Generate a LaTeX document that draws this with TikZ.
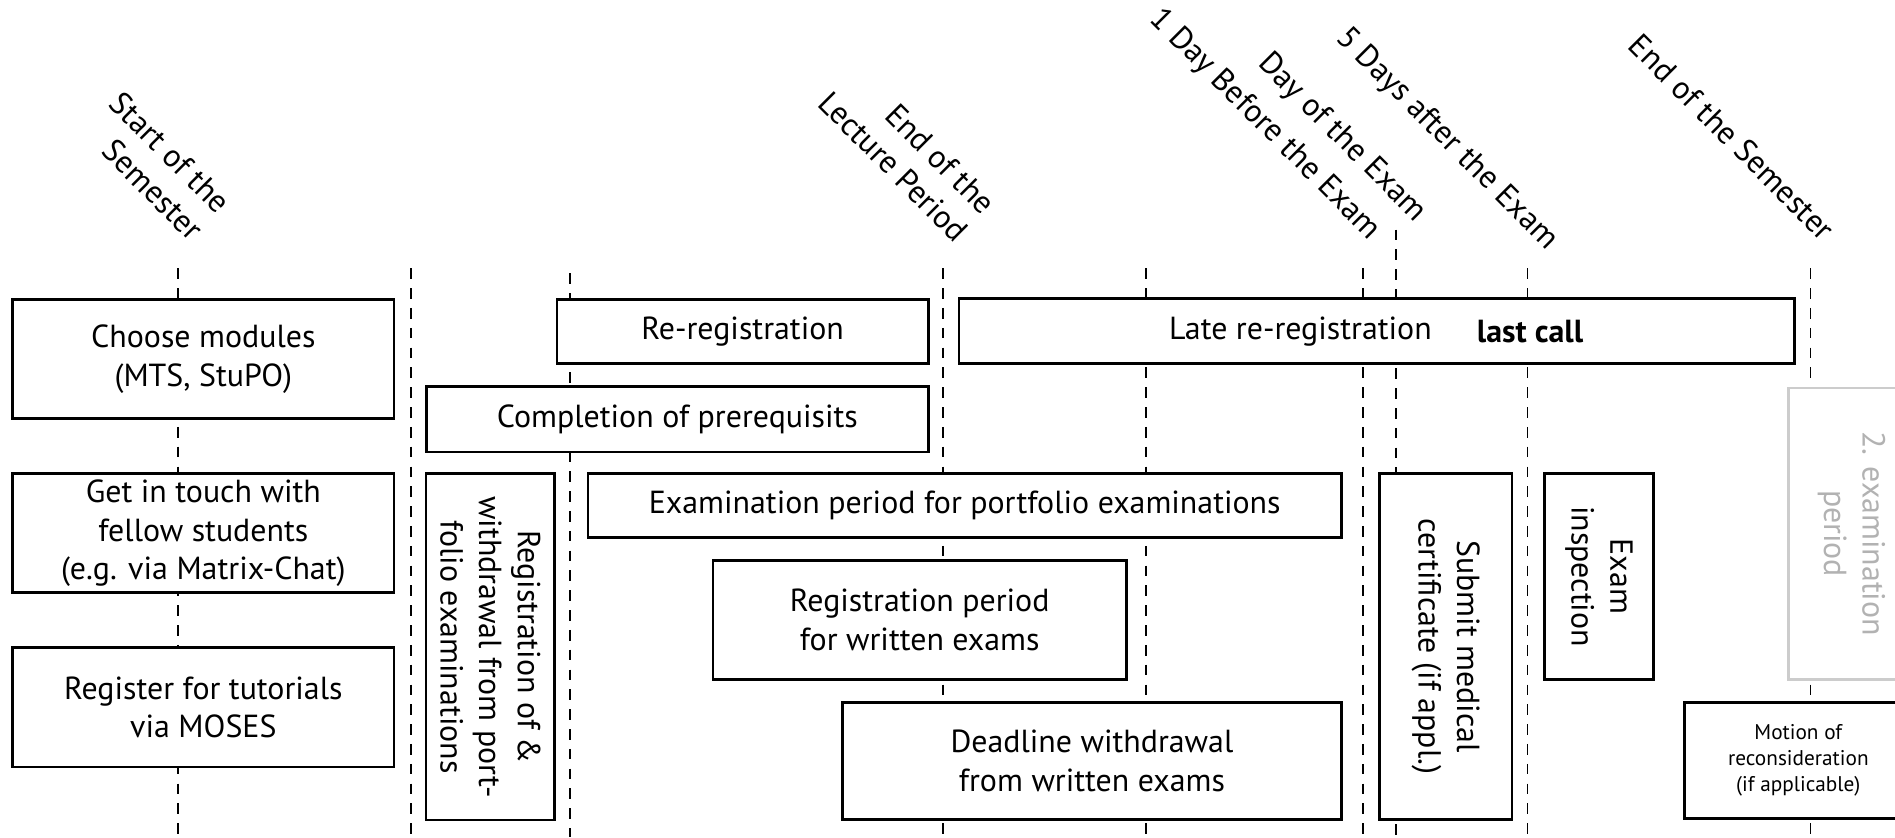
\documentclass[tikz,border=0pt]{standalone}
\usepackage{fontspec}
\setmainfont{PT Sans}
\tikzset{
	box/.style={draw, line width=1.1pt, fill=white},
	greybox/.style={draw=black!20, line width=1.1pt, fill=white, text=black!30},
	guide/.style={line width=0.7pt, dash pattern=on 4.4pt off 3.8pt},
	when/.style={rotate=-45, anchor=south east, inner sep=0pt, align=right, text depth=0pt},
}
\begin{document}
\begin{tikzpicture}[x=0.5pt, y=-0.5pt, font=\fontsize{13.2}{16}\selectfont]
		\useasboundingbox (0,0) rectangle (1568,692.6);
		\clip (0,0) rectangle (1568,692.6);
		
		% dashed time marks
		\foreach \x/\t [count=\i] in {147/222, 340/222, 471.5/226, 780.5/222, 948/222, 1127.5/222, 1155/190, 1264/222, 1498/222} {
			\coordinate (top-\i) at (\x,\t);
			\coordinate (bot-\i) at (\x,692.6);
			\draw[guide] (top-\i) -- (bot-\i);
		}
		
		\node[when] (start-sem) at (157,201) {Start of the\\Semester};
		\node[when] (end-lecture) at (790,202) {End of the\\Lecture Period};
		\node[when] (day-before) at (1133,200) {1 Day Before the Exam};
		\node[when] (exam-day) at (1171,185) {Day of the Exam};
		\node[when] (days-after) at (1280,208) {5 Days after the Exam};
		\node[when] (end-sem) at (1507,201) {End of the Semester};
		
		\draw[box] (10.5,248) rectangle (326,346) node[midway, align=center] (choose) {Choose modules\\(MTS, StuPO)};
		\draw[box] (10.5,392) rectangle (326,490.5) node[midway, align=center] (touch) {Get in touch with\\fellow students\\(e.g. via Matrix-Chat)};
		\draw[box] (10.5,536) rectangle (326,634.5) node[midway, align=center] (tutorials) {Register for tutorials\\via MOSES};
		
		\draw[box] (461,248) rectangle (768,301) node[midway] (re-reg) {Re-registration};
		\draw[box] (353,320) rectangle (768,374) node[midway] (prereq) {Completion of prerequisits};
		\draw[box] (352.5,392) rectangle (459,678.5) node[midway, rotate=-90, align=center] (portfolio-reg) {Registration of \&\\withdrawal from port-\\folio examinations};
		
		\draw[box] (486.5,392) rectangle (1110,445) node[midway] (portfolio-period) {Examination period for portfolio examinations};
		\draw[box] (590,464) rectangle (932,562) node[midway, align=center] (written-reg) {Registration period\\for written exams};
		\draw[box] (697,581) rectangle (1110,678) node[midway, align=center] (withdraw) {Deadline withdrawal\\from written exams};
		
		\draw[box] (793.5,247) rectangle (1485,301);
		\node (late) at (1076,274) {Late re-registration};
		\node (last-call) at (1266,274) {\bfseries last call};
		
		\draw[box] (1141.5,392) rectangle (1251,678) node[midway, rotate=-90, align=center] (medical) {Submit medical\\certificate (if appl.)};
		\draw[box] (1278,392) rectangle (1368,562) node[midway, rotate=-90, align=center] (inspection) {Exam\\inspection};
		
		\draw[greybox] (1480,321) rectangle (1584,562) node[midway, rotate=-90, align=center] (second-period) {2. examination\\period};
		\draw[box] (1394,581) rectangle (1582,677) node[midway, align=center, font=\fontsize{8.8}{10.8}\selectfont] (motion) {Motion of\\reconsideration\\(if applicable)};
	\end{tikzpicture}
\end{document}
